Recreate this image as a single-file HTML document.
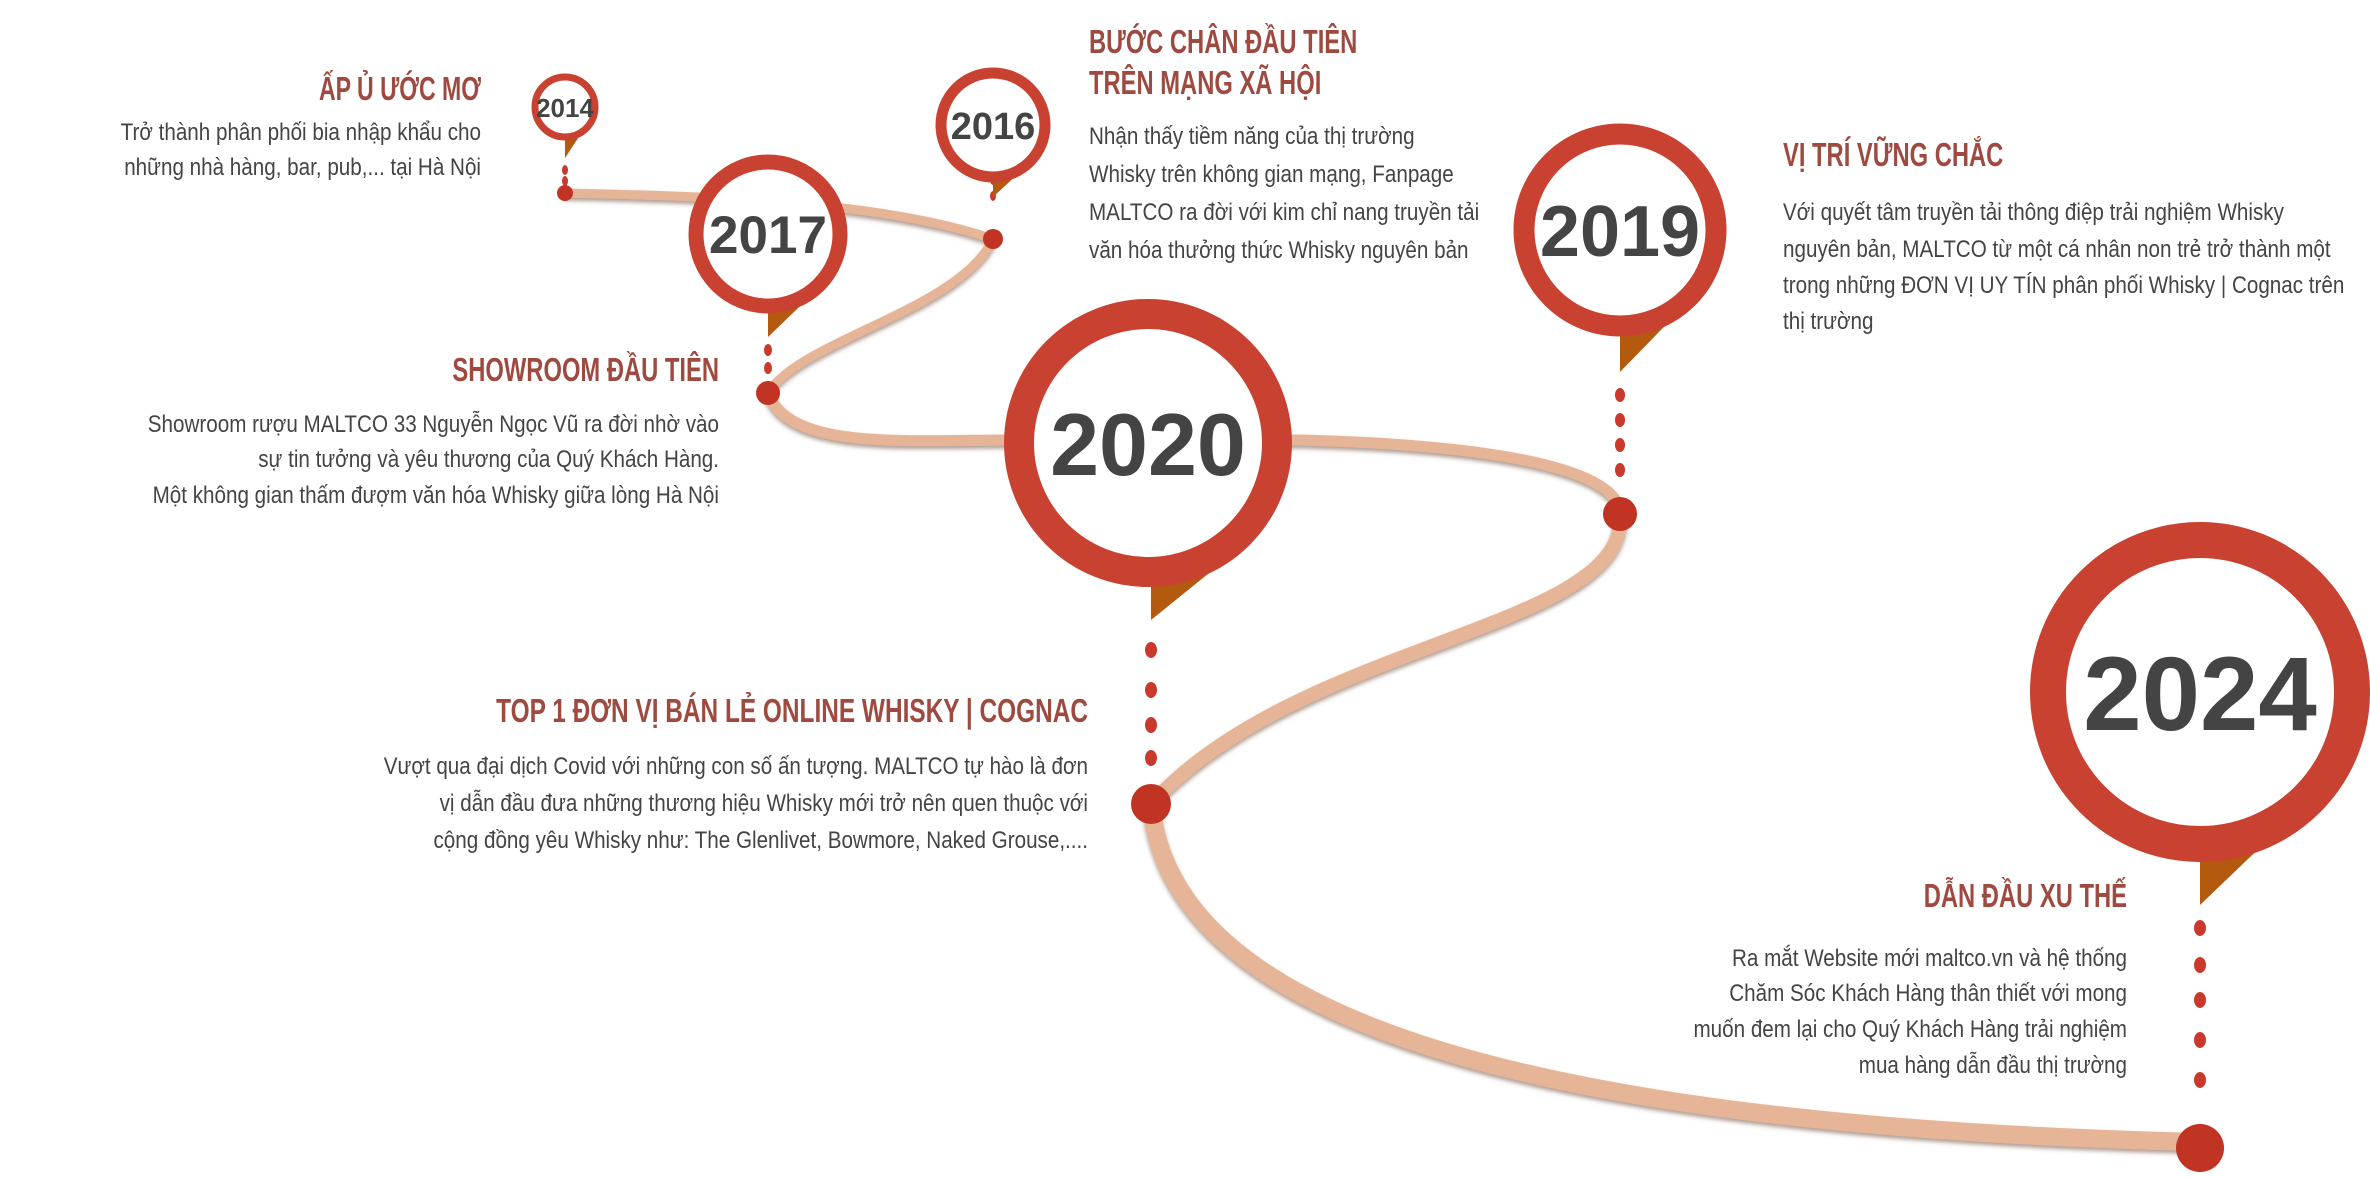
<!DOCTYPE html>
<html><head><meta charset="utf-8"><style>
html,body{margin:0;padding:0;background:#fff;}
svg{display:block}
.h{font-family:"Liberation Sans Narrow","Liberation Sans",sans-serif;font-size:33px;fill:#9e4a40;font-weight:bold}
.b{font-family:"Liberation Sans Narrow","Liberation Sans",sans-serif;font-size:24px;fill:#444}
.y{font-family:"Liberation Sans",sans-serif;font-weight:bold;fill:#444;text-anchor:middle}
</style></head><body>
<svg width="2370" height="1178" viewBox="0 0 2370 1178" xmlns="http://www.w3.org/2000/svg">
<defs>
<filter id="sh" x="-10%" y="-10%" width="120%" height="120%"><feDropShadow dx="0" dy="3" stdDeviation="2" flood-color="#7a5a48" flood-opacity="0.6"/></filter>
</defs>
<g fill="none" stroke="#e6b597" stroke-linecap="round" filter="url(#sh)">
<path d="M565,193 C700,196 880,200 993,239" stroke-width="9"/>
<path d="M993,239 C960,310 800,340 768,393" stroke-width="9"/>
<path d="M768,393 C790,450 900,440 1010,440 L1300,440 C1500,445 1620,470 1620,514" stroke-width="11"/>
<path d="M1620,514 C1630,630 1300,640 1151,804" stroke-width="14"/>
<path d="M1151,804 C1170,1010 1500,1125 2200,1142" stroke-width="18"/>
</g>
<g fill="#c93a2c">
<ellipse cx="565" cy="170" rx="3" ry="5"/><ellipse cx="565" cy="181" rx="3" ry="5"/>
<ellipse cx="993" cy="180" rx="3" ry="5"/><ellipse cx="993" cy="196" rx="3" ry="5"/>
<ellipse cx="768" cy="350" rx="4" ry="6"/><ellipse cx="768" cy="368" rx="4" ry="6"/>
<ellipse cx="1151" cy="650" rx="6" ry="8"/><ellipse cx="1151" cy="690" rx="6" ry="8"/><ellipse cx="1151" cy="725" rx="6" ry="8"/><ellipse cx="1151" cy="758" rx="6" ry="8"/>
<ellipse cx="1620" cy="395" rx="5" ry="7"/><ellipse cx="1620" cy="420" rx="5" ry="7"/><ellipse cx="1620" cy="445" rx="5" ry="7"/><ellipse cx="1620" cy="470" rx="5" ry="7"/>
<ellipse cx="2200" cy="928" rx="6" ry="8"/><ellipse cx="2200" cy="965" rx="6" ry="8"/><ellipse cx="2200" cy="1000" rx="6" ry="8"/><ellipse cx="2200" cy="1040" rx="6" ry="8"/><ellipse cx="2200" cy="1080" rx="6" ry="8"/>
</g>
<g fill="#c13323">
<circle cx="565" cy="193" r="8"/>
<circle cx="993" cy="239" r="10"/>
<circle cx="768" cy="393" r="12"/>
<circle cx="1151" cy="804" r="20"/>
<circle cx="1620" cy="514" r="17"/>
<circle cx="2200" cy="1148" r="24"/>
</g>
<g>
<polygon points="565,127 590,120 565,158" fill="#b35a0f"/>
<circle cx="565" cy="107" r="30" fill="#fff" stroke="#c94231" stroke-width="7"/>
<text class="y" x="565" y="117" font-size="26">2014</text>
<polygon points="993,170 1033,160 993,197" fill="#b35a0f"/>
<circle cx="993" cy="125" r="52" fill="#fff" stroke="#c94231" stroke-width="11"/>
<text class="y" x="993" y="139" font-size="38">2016</text>
<polygon points="768,300 822,285 768,337" fill="#b35a0f"/>
<circle cx="768" cy="234" r="72" fill="#fff" stroke="#c94231" stroke-width="15"/>
<text class="y" x="768" y="253" font-size="53">2017</text>
<polygon points="1151,560 1250,540 1151,620" fill="#b35a0f"/>
<circle cx="1148" cy="443" r="129" fill="#fff" stroke="#c94231" stroke-width="30"/>
<text class="y" x="1148" y="475" font-size="88">2020</text>
<polygon points="1620,315 1690,300 1620,372" fill="#b35a0f"/>
<circle cx="1620" cy="230" r="96" fill="#fff" stroke="#c94231" stroke-width="21"/>
<text class="y" x="1620" y="256" font-size="72">2019</text>
<polygon points="2200,820 2320,790 2200,905" fill="#b35a0f"/>
<circle cx="2200" cy="692" r="152" fill="#fff" stroke="#c94231" stroke-width="36"/>
<text class="y" x="2200" y="730" font-size="105">2024</text>
</g>
<g text-anchor="end">
<text class="h" transform="translate(481,100) scale(0.7,1)">ẤP Ủ ƯỚC MƠ</text>
<text class="b" transform="translate(481,140) scale(0.86,1)">Trở thành phân phối bia nhập khẩu cho</text>
<text class="b" transform="translate(481,175) scale(0.86,1)">những nhà hàng, bar, pub,... tại Hà Nội</text>
<text class="h" transform="translate(719,381) scale(0.72,1)">SHOWROOM ĐẦU TIÊN</text>
<text class="b" transform="translate(719,432) scale(0.86,1)">Showroom rượu MALTCO 33 Nguyễn Ngọc Vũ ra đời nhờ vào</text>
<text class="b" transform="translate(719,467) scale(0.86,1)">sự tin tưởng và yêu thương của Quý Khách Hàng.</text>
<text class="b" transform="translate(719,503) scale(0.86,1)">Một không gian thấm đượm văn hóa Whisky giữa lòng Hà Nội</text>
<text class="h" transform="translate(1088,722) scale(0.74,1)">TOP 1 ĐƠN VỊ BÁN LẺ ONLINE WHISKY | COGNAC</text>
<text class="b" transform="translate(1088,774) scale(0.86,1)">Vượt qua đại dịch Covid với những con số ấn tượng. MALTCO tự hào là đơn</text>
<text class="b" transform="translate(1088,811) scale(0.86,1)">vị dẫn đầu đưa những thương hiệu Whisky mới trở nên quen thuộc với</text>
<text class="b" transform="translate(1088,848) scale(0.86,1)">cộng đồng yêu Whisky như: The Glenlivet, Bowmore, Naked Grouse,....</text>
<text class="h" transform="translate(2127,907) scale(0.72,1)">DẪN ĐẦU XU THẾ</text>
<text class="b" transform="translate(2127,966) scale(0.86,1)">Ra mắt Website mới maltco.vn và hệ thống</text>
<text class="b" transform="translate(2127,1001) scale(0.86,1)">Chăm Sóc Khách Hàng thân thiết với mong</text>
<text class="b" transform="translate(2127,1037) scale(0.86,1)">muốn đem lại cho Quý Khách Hàng trải nghiệm</text>
<text class="b" transform="translate(2127,1073) scale(0.86,1)">mua hàng dẫn đầu thị trường</text>
</g>
<g>
<text class="h" transform="translate(1089,53) scale(0.72,1)">BƯỚC CHÂN ĐẦU TIÊN</text>
<text class="h" transform="translate(1089,94) scale(0.72,1)">TRÊN MẠNG XÃ HỘI</text>
<text class="b" transform="translate(1089,144) scale(0.86,1)">Nhận thấy tiềm năng của thị trường</text>
<text class="b" transform="translate(1089,182) scale(0.86,1)">Whisky trên không gian mạng, Fanpage</text>
<text class="b" transform="translate(1089,220) scale(0.86,1)">MALTCO ra đời với kim chỉ nang truyền tải</text>
<text class="b" transform="translate(1089,258) scale(0.86,1)">văn hóa thưởng thức Whisky nguyên bản</text>
<text class="h" transform="translate(1783,166) scale(0.72,1)">VỊ TRÍ VỮNG CHẮC</text>
<text class="b" transform="translate(1783,220) scale(0.86,1)">Với quyết tâm truyền tải thông điệp trải nghiệm Whisky</text>
<text class="b" transform="translate(1783,257) scale(0.86,1)">nguyên bản,  MALTCO từ một cá nhân non trẻ trở thành một</text>
<text class="b" transform="translate(1783,293) scale(0.86,1)">trong những ĐƠN VỊ UY TÍN phân phối Whisky | Cognac trên</text>
<text class="b" transform="translate(1783,329) scale(0.86,1)">thị trường</text>
</g>
</svg>
</body></html>
